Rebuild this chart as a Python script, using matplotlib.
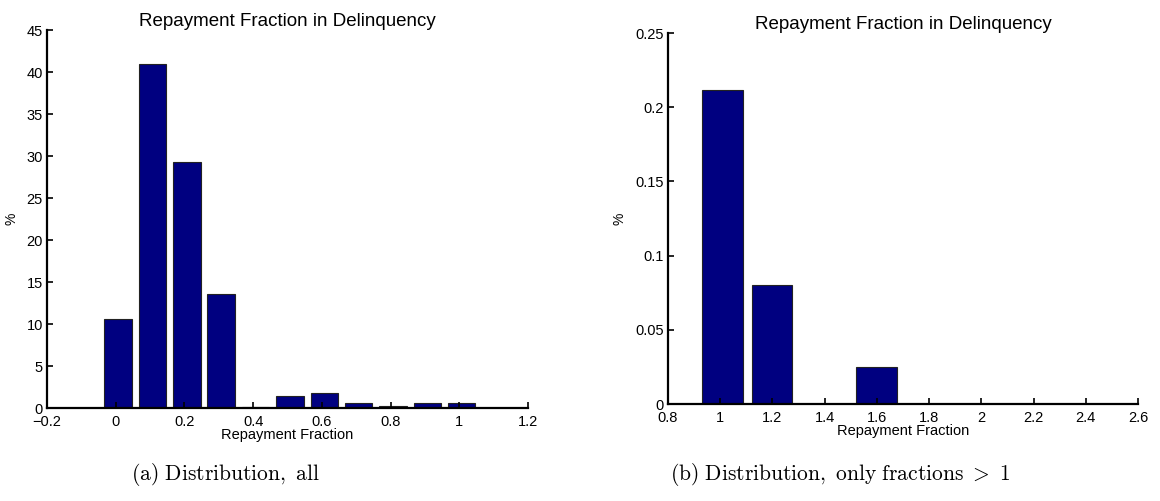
import matplotlib
matplotlib.use("Agg")
import matplotlib.pyplot as plt
from matplotlib.ticker import FuncFormatter

# ---- data ----
centers_all = [0.007, 0.107, 0.207, 0.307, 0.407, 0.507, 0.607, 0.707, 0.807, 0.907, 1.007]
pct_all = [10.6, 41.0, 29.3, 13.55, 0.1, 1.47, 1.78, 0.55, 0.2, 0.55, 0.55]
bar_width_all = 0.08

centers_gt1 = [1.008, 1.199, 1.599]
pct_gt1 = [0.2118, 0.0805, 0.0247]
bar_width_gt1 = 0.155

xticks_all = [-0.2, 0, 0.2, 0.4, 0.6, 0.8, 1.0, 1.2]
yticks_all = [0, 5, 10, 15, 20, 25, 30, 35, 40, 45]
xticks_gt1 = [0.8, 1.0, 1.2, 1.4, 1.6, 1.8, 2.0, 2.2, 2.4, 2.6]
yticks_gt1 = [0, 0.05, 0.1, 0.15, 0.2, 0.25]

title = "Repayment Fraction in Delinquency"
xlabel = "Repayment Fraction"
ylabel = "%"
caption_a = r"$\mathrm{(a)\ Distribution,\ all}$"
caption_b = r"$\mathrm{(b)\ Distribution,\ only\ fractions}\ >\ 1$"

plt.rcParams['font.family'] = ['Liberation Sans', 'DejaVu Sans']
plt.rcParams['mathtext.fontset'] = 'cm'

fig = plt.figure(figsize=(11.6, 5.01), dpi=100)
ax1 = fig.add_axes([0.0405, 0.1856, 0.4147, 0.7545])
ax2 = fig.add_axes([0.5759, 0.1936, 0.4051, 0.7405])

navy = '#000080'

def style(ax, xt, yt, xlim, ylim):
    ax.set_xlim(*xlim)
    ax.set_ylim(*ylim)
    ax.set_xticks(xt)
    ax.set_yticks(yt)
    ax.xaxis.set_major_formatter(FuncFormatter(lambda v, p: ('%g' % round(v, 3)).replace('-', '\u2212')))
    ax.yaxis.set_major_formatter(FuncFormatter(lambda v, p: '%g' % round(v, 3)))
    for s in ['top', 'right']:
        ax.spines[s].set_visible(False)
    for s in ['left', 'bottom']:
        ax.spines[s].set_linewidth(1.6)
    ax.tick_params(direction='in', length=4, width=1.2, labelsize=10.5)
    ax.tick_params(axis='x', pad=5)
    ax.tick_params(axis='y', pad=3)
    ax.set_title(title, fontsize=13.5, pad=3)
    ax.set_xlabel(xlabel, fontsize=10.5, labelpad=-1)
    ax.set_ylabel(ylabel, fontsize=10, labelpad=6)

ax1.bar(centers_all, pct_all, width=bar_width_all, color=navy, edgecolor='#222222', linewidth=0.8)
style(ax1, xticks_all, yticks_all, (-0.2, 1.2), (0, 45))

ax2.bar(centers_gt1, pct_gt1, width=bar_width_gt1, color=navy, edgecolor='#222222', linewidth=0.8)
style(ax2, xticks_gt1, yticks_gt1, (0.8, 2.6), (0, 0.25))

fig.text(225 / 1160, 1 - 475 / 501, caption_a, fontsize=15.5, ha='center', va='center')
fig.text(840 / 1160, 1 - 475 / 501, caption_b, fontsize=15.5, ha='center', va='center')

fig.savefig("out.png", dpi=100)
